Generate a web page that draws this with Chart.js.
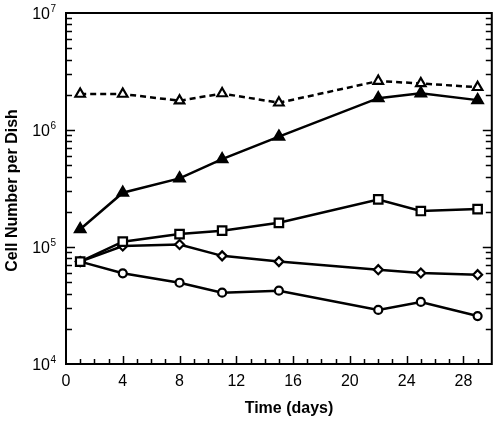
<!DOCTYPE html>
<html>
<head>
<meta charset="utf-8">
<script src="https://cdn.jsdelivr.net/npm/chart.js@4/dist/chart.umd.min.js"></script>
<style>
  html, body { margin: 0; padding: 0; background: #fff; }
  #wrap { width: 500px; height: 421px; position: relative; }
</style>
</head>
<body>
<div id="wrap"><canvas id="chart"></canvas></div>
<script>
// time points (days)
const days = [1, 4, 8, 11, 15, 22, 25, 29];

// cell number per dish
const openTriangles = [2.03e6, 2.03e6, 1.78e6, 2.05e6, 1.71e6, 2.62e6, 2.5e6, 2.32e6];
const filledTriangles = [1.42e5, 2.91e5, 3.86e5, 5.63e5, 8.77e5, 1.87e6, 2.06e6, 1.80e6];
const squares = [7.5e4, 1.11e5, 1.29e5, 1.38e5, 1.61e5, 2.55e5, 2.03e5, 2.11e5];
const diamonds = [7.5e4, 1.02e5, 1.05e5, 8.4e4, 7.5e4, 6.4e4, 6.0e4, 5.8e4];
const circles = [7.5e4, 5.96e4, 4.95e4, 4.07e4, 4.23e4, 2.9e4, 3.39e4, 2.57e4];

const xTickLabels = [0, 4, 8, 12, 16, 20, 24, 28];
const yDecades = [4, 5, 6, 7];

const FONT = '"Liberation Sans", Arial, Helvetica, sans-serif';

function points(vals) {
  return days.map((d, i) => ({ x: d, y: vals[i] }));
}

function series(vals, style, radius, fill, dash) {
  return {
    data: points(vals),
    showLine: true,
    borderColor: '#000',
    borderWidth: 2.5,
    borderDash: dash || [],
    pointStyle: style,
    pointRadius: radius,
    pointBorderWidth: 2.2,
    pointBorderColor: '#000',
    pointBackgroundColor: fill,
    backgroundColor: fill
  };
}

// frame, inward ticks, superscript labels and axis titles
const axesPlugin = {
  id: 'axesPlugin',
  afterDraw(chart) {
    const ctx = chart.ctx;
    const a = chart.chartArea;
    const xs = chart.scales.x, ys = chart.scales.y;
    ctx.save();
    ctx.strokeStyle = '#000';
    ctx.lineWidth = 2;
    ctx.strokeRect(a.left, a.top, a.right - a.left, a.bottom - a.top);

    ctx.lineWidth = 1.5;
    ctx.beginPath();
    for (let d = 1; d < 30; d++) {
      const px = Math.round(xs.getPixelForValue(d)) + 0.5;
      const len = d % 4 === 0 ? 8 : 5;
      ctx.moveTo(px, a.bottom);
      ctx.lineTo(px, a.bottom - len);
    }
    for (let n = 4; n < 7; n++) {
      for (let m = 1; m <= 9; m++) {
        if (m === 1 && n === 4) continue;
        const py = Math.round(ys.getPixelForValue(m * Math.pow(10, n))) + 0.5;
        const len = m === 1 ? 9 : 6;
        ctx.moveTo(a.left, py);
        ctx.lineTo(a.left + len, py);
        ctx.moveTo(a.right, py);
        ctx.lineTo(a.right - len, py);
      }
    }
    ctx.stroke();

    // y tick labels 10^n
    ctx.fillStyle = '#000';
    ctx.textBaseline = 'middle';
    yDecades.forEach(n => {
      const py = ys.getPixelForValue(Math.pow(10, n));
      ctx.font = '16px ' + FONT;
      ctx.textAlign = 'right';
      ctx.fillText('10', 50, py + 2);
      ctx.font = '10px ' + FONT;
      ctx.textAlign = 'left';
      ctx.fillText(String(n), 50.5, py - 4);
    });

    // axis titles
    ctx.font = 'bold 16px ' + FONT;
    ctx.textAlign = 'center';
    ctx.fillText('Time (days)', 289, 409);
    ctx.translate(13, (a.top + a.bottom) / 2 + 2);
    ctx.rotate(-Math.PI / 2);
    ctx.fillText('Cell Number per Dish', 0, 0);
    ctx.restore();
  }
};

new Chart(document.getElementById('chart'), {
  type: 'scatter',
  data: {
    datasets: [
      series(openTriangles, 'triangle', 5.5, '#fff', [6, 4]),
      series(filledTriangles, 'triangle', 6, '#000'),
      series(squares, 'rect', 6, '#fff'),
      series(diamonds, 'rectRot', 4.5, '#fff'),
      series(circles, 'circle', 4, '#fff')
    ]
  },
  options: {
    responsive: true,
    maintainAspectRatio: false,
    animation: false,
    layout: { padding: { top: 13, right: 6, left: 0, bottom: 0 } },
    plugins: { legend: { display: false }, tooltip: { enabled: false } },
    scales: {
      x: {
        type: 'linear',
        min: 0,
        max: 30,
        grid: { display: false, drawTicks: false },
        border: { display: false },
        ticks: {
          stepSize: 1,
          autoSkip: false,
          maxRotation: 0,
          padding: 8,
          color: '#000',
          font: { size: 16, family: FONT },
          callback: v => xTickLabels.includes(v) ? String(v) : ''
        },
        afterFit: s => { s.height = 57; }
      },
      y: {
        type: 'logarithmic',
        min: 1e4,
        max: 1e7,
        grid: { display: false, drawTicks: false },
        border: { display: false },
        ticks: { display: false },
        afterFit: s => { s.width = 66; }
      }
    }
  },
  plugins: [axesPlugin]
});
</script>
</body>
</html>
